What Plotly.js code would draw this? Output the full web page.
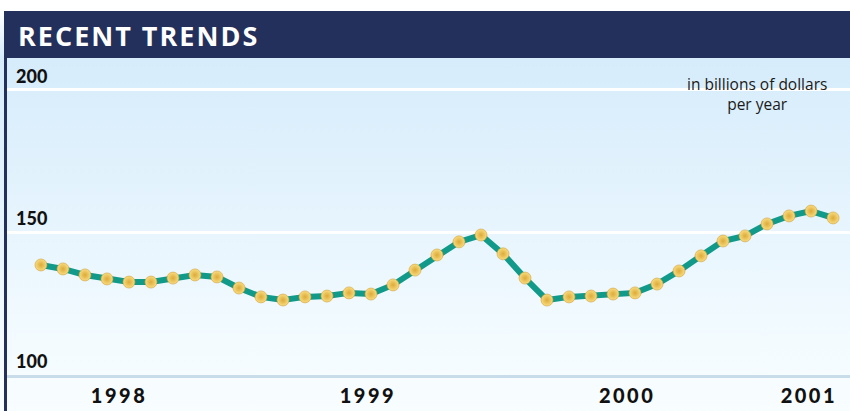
<!DOCTYPE html>
<html>
<head>
<meta charset="utf-8">
<script src="https://cdn.plot.ly/plotly-3.0.1.min.js"></script>
<style>
  html, body { margin:0; padding:0; background:#ffffff; }
  #wrap { position:relative; width:850px; height:411px;
    background: linear-gradient(to bottom, #ffffff 0px, #ffffff 11px, #d6ecfb 58px, #e4f3fd 200px, #f3fbff 340px, #f8fdff 411px); }
  #chart { width:850px; height:411px; }
  .xtick text { letter-spacing: 2.5px; }
</style>
</head>
<body>
<div id="wrap"><div id="chart"></div></div>
<script>
// Monthly index (Jan 1998 .. Jan 2001), values in billions of dollars per year
const months = [0,1,2,3,4,5,6,7,8,9,10,11,12,13,14,15,16,17,18,19,20,21,22,23,24,25,26,27,28,29,30,31,32,33,34,35,36];
const values = [138.6,137.2,135.1,133.7,132.6,132.6,134.0,135.1,134.4,130.5,127.4,126.3,
                127.4,127.7,128.8,128.4,131.6,136.8,142.1,146.7,149.1,142.5,134.0,126.3,
                127.4,127.7,128.4,128.8,131.9,136.5,141.8,147.0,148.8,153.0,155.8,157.5,155.1];
const yearTickPos = [3.55, 14.86, 26.64, 34.9];
const yearLabels = ['1998','1999','2000','2001'];
const yTicks = [100, 150, 200];
const yTickLabels = ['100', '150', '200'];
const titleText = 'RECENT TRENDS';
const unitNote = 'in billions of dollars<br>per year';

const navy = '#22305b';

const trace = {
  x: months, y: values, type: 'scatter', mode: 'lines+markers',
  line: { color: '#11998a', width: 6 },
  marker: { size: 12, color: '#f9dc7e', gradient: { type: 'radial', color: '#dcaa3a' },
            line: { color: '#d2a038', width: 0.6 } },
  hoverinfo: 'skip', cliponaxis: false
};

const yLabelAnns = yTicks.map((v, i) => ({
  xref: 'paper', yref: 'y', x: 10/846, y: v, xanchor: 'left', yanchor: 'bottom', yshift: 1,
  text: yTickLabels[i], showarrow: false,
  font: { family: 'Lato, sans-serif', size: 18, weight: 900, color: '#111' }
}));

const layout = {
  width: 850, height: 411,
  margin: { l: 4, r: 0, t: 58, b: 36 },
  paper_bgcolor: 'rgba(0,0,0,0)',
  plot_bgcolor: 'rgba(0,0,0,0)',
  showlegend: false,
  font: { family: 'Lato, "Open Sans", sans-serif', color: '#111' },
  xaxis: {
    range: [-1.68, 36.77], showgrid: false, zeroline: false,
    tickmode: 'array', tickvals: yearTickPos, ticktext: yearLabels,
    ticks: '', showline: true, linecolor: '#c9dcea', linewidth: 3,
    tickfont: { family: 'Lato, sans-serif', size: 20, weight: 900, color: '#111' },
    ticklabelstandoff: 1
  },
  yaxis: {
    range: [100, 211.2], zeroline: false, showline: false,
    tickmode: 'array', tickvals: yTicks, showticklabels: false,
    showgrid: true, gridcolor: '#ffffff', gridwidth: 3, ticks: ''
  },
  shapes: [
    { type: 'rect', xref: 'paper', yref: 'paper', x0: 0, x1: 1, y0: 1, y1: 1 + 47/317,
      fillcolor: navy, line: { width: 0 }, layer: 'below' },
    { type: 'rect', xref: 'paper', yref: 'paper', x0: 0, x1: 3/846, y0: -36/317, y1: 1 + 47/317,
      fillcolor: navy, line: { width: 0 }, layer: 'above' }
  ],
  annotations: [
    { xref: 'paper', yref: 'paper', x: 12/846, y: 1 + 22.5/317, xanchor: 'left', yanchor: 'middle',
      text: '<span style="letter-spacing:2px">' + titleText + '</span>', showarrow: false,
      font: { family: '"Open Sans", sans-serif', size: 27, weight: 700, color: '#ffffff' } },
    { xref: 'paper', yref: 'paper', x: 753/846, y: (375-71)/317, xanchor: 'center', yanchor: 'top',
      text: unitNote, showarrow: false, align: 'center',
      font: { family: '"Open Sans", sans-serif', size: 15.5, color: '#1a1a1a' } }
  ].concat(yLabelAnns)
};

Plotly.newPlot('chart', [trace], layout, { staticPlot: true, displayModeBar: false });
</script>
</body>
</html>
